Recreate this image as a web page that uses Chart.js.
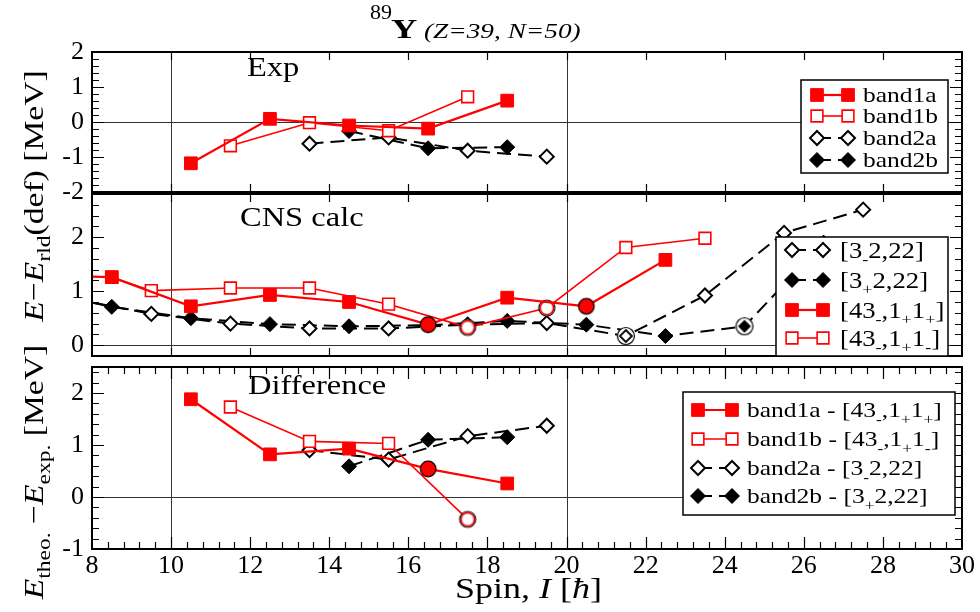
<!DOCTYPE html>
<html>
<head>
<meta charset="utf-8">
<script src="https://cdn.jsdelivr.net/npm/chart.js@4.4.1/dist/chart.umd.min.js"></script>
<style>
html,body{margin:0;padding:0;background:#fff;}
#wrap{position:relative;width:980px;height:612px;overflow:hidden;font-family:"Liberation Serif","Times New Roman",serif;color:#000;}
canvas{position:absolute;left:0;top:0;width:980px;height:612px;}
.lbl{position:absolute;white-space:nowrap;line-height:1;}
.sx{display:inline-block;transform-origin:0 0;}
.ytitle{font-size:28px;transform:translate(-50%,-50%) rotate(-90deg) scaleX(1.2);}
.sb{font-size:0.7em;position:relative;top:0.35em;}
</style>
</head>
<body>
<div id="wrap">
<canvas id="cExp" width="980" height="612"></canvas>
<canvas id="cCns" width="980" height="612"></canvas>
<canvas id="cDiff" width="980" height="612"></canvas>

<div class="lbl" style="left:370px;top:1px;font-size:22px;">89</div>
<div class="lbl sx" style="left:391px;top:15px;font-size:28px;font-weight:bold;transform:scaleX(1.3);">Y</div>
<div class="lbl sx" style="left:424px;top:21px;font-size:21px;font-style:italic;transform:scaleX(1.3);">(Z=39, N=50)</div>

<div class="lbl sx" style="left:247px;top:53px;font-size:28px;transform:scaleX(1.16);">Exp</div>
<div class="lbl sx" style="left:240px;top:203px;font-size:28px;transform:scaleX(1.16);">CNS calc</div>
<div class="lbl sx" style="left:248px;top:371px;font-size:28px;transform:scaleX(1.16);">Difference</div>

<div class="lbl ytitle" style="left:34px;top:196px;"><i>E</i>−<i>E</i><span class="sb">rld</span>(def) [MeV]</div>
<div class="lbl ytitle" style="left:34px;top:472px;"><i>E</i><span class="sb">theo.</span> −<i>E</i><span class="sb">exp.</span> [MeV]</div>

<div class="lbl sx" style="left:455px;top:573px;font-size:30px;transform:scaleX(1.2);">Spin, <i>I</i> [<i>ħ</i>]</div>
</div>

<script>
// ---------------- DATA ----------------
// Panel 1: experiment
const expBand1aSpin = [10.5, 12.5, 14.5, 16.5, 18.5];
const expBand1aE    = [-1.18, 0.09, -0.10, -0.19, 0.61];
const expBand1bSpin = [11.5, 13.5, 15.5, 17.5];
const expBand1bE    = [-0.68, -0.02, -0.25, 0.72];
const expBand2aSpin = [13.5, 15.5, 17.5, 19.5];
const expBand2aE    = [-0.62, -0.44, -0.82, -0.99];
const expBand2bSpin = [14.5, 16.5, 18.5];
const expBand2bE    = [-0.26, -0.75, -0.72];

// Panel 2: CNS calculations
const cns3mSpin  = [7.5, 9.5, 11.5, 13.5, 15.5, 17.5, 19.5, 21.5, 23.5, 25.5, 27.5];
const cns3mE     = [0.86, 0.58, 0.40, 0.31, 0.31, 0.38, 0.41, 0.17, 0.92, 2.08, 2.51];
const cns3pSpin  = [6.5, 8.5, 10.5, 12.5, 14.5, 16.5, 18.5, 20.5, 22.5, 24.5, 26.5];
const cns3pE     = [1.03, 0.71, 0.50, 0.39, 0.35, 0.37, 0.45, 0.38, 0.17, 0.35, 1.90];
const cns43ppSpin = [6.5, 8.5, 10.5, 12.5, 14.5, 16.5, 18.5, 20.5, 22.5];
const cns43ppE    = [1.30, 1.26, 0.72, 0.93, 0.80, 0.38, 0.88, 0.72, 1.58];
const cns43pmSpin = [8.5, 9.5, 11.5, 13.5, 15.5, 17.5, 19.5, 21.5, 23.5];
const cns43pmE    = [1.26, 1.01, 1.06, 1.06, 0.76, 0.33, 0.69, 1.81, 1.98];
// spins of the circled (crossing) points
const cns3mCircled   = [21.5];
const cns3pCircled   = [24.5];
const cns43ppCircled = [16.5, 20.5];
const cns43pmCircled = [17.5, 19.5];

// Panel 3: difference theory - experiment
const diffBand1aSpin = [10.5, 12.5, 14.5, 16.5, 18.5];
const diffBand1aE    = [1.88, 0.82, 0.93, 0.54, 0.26];
const diffBand1bSpin = [11.5, 13.5, 15.5, 17.5];
const diffBand1bE    = [1.73, 1.07, 1.03, -0.43];
const diffBand2aSpin = [13.5, 15.5, 17.5, 19.5];
const diffBand2aE    = [0.90, 0.72, 1.17, 1.37];
const diffBand2bSpin = [14.5, 16.5, 18.5];
const diffBand2bE    = [0.59, 1.10, 1.15];
const diffBand1aCircled = [16.5];
const diffBand1bCircled = [17.5];

// Axes
const spinMin = 8, spinMax = 30;
const spinTicks = [8, 10, 12, 14, 16, 18, 20, 22, 24, 26, 28, 30];
const guideSpins = [10, 20];
const expTicks  = [-2, -1, 0, 1, 2];
const cnsTicks  = [0, 1, 2];
const diffTicks = [-1, 0, 1, 2];

// ---------------- STYLES ----------------
const RED = '#ff0000';
const FONT = '"Liberation Serif", "Times New Roman", serif';
const STY = {
  redFilled:   {pointStyle:'rect',    radius:9,   bg:RED,    border:RED,    bw:1,   line:RED,    lw:2.2, dash:[]},
  redOpen:     {pointStyle:'rect',    radius:8.3, bg:'#fff', border:RED,    bw:1.6, line:RED,    lw:1.6, dash:[]},
  blackOpen:   {pointStyle:'rectRot', radius:7,   bg:'#fff', border:'#000', bw:2,   line:'#000', lw:2,   dash:[14,7]},
  blackFilled: {pointStyle:'rectRot', radius:7.5, bg:'#000', border:'#000', bw:1,   line:'#000', lw:2,   dash:[14,7]}
};
function mk(size, fn){ const c=document.createElement('canvas'); c.width=c.height=size; fn(c.getContext('2d'), size/2); return c; }
function diamond(g, m, r){ g.beginPath(); g.moveTo(m, m-r); g.lineTo(m+r, m); g.lineTo(m, m+r); g.lineTo(m-r, m); g.closePath(); }
const CIRC = {
  redFilled: mk(20,(g,m)=>{g.beginPath();g.arc(m,m,7.8,0,2*Math.PI);g.fillStyle=RED;g.fill();g.lineWidth=1.2;g.strokeStyle='#000';g.stroke();}),
  redOpen: mk(20,(g,m)=>{g.beginPath();g.arc(m,m,8,0,2*Math.PI);g.fillStyle='#fff';g.fill();g.lineWidth=1.2;g.strokeStyle='#000';g.stroke();
                         g.beginPath();g.arc(m,m,6.6,0,2*Math.PI);g.lineWidth=1.5;g.strokeStyle=RED;g.stroke();}),
  blackOpen: mk(22,(g,m)=>{g.beginPath();g.arc(m,m,8.5,0,2*Math.PI);g.fillStyle='#fff';g.fill();g.lineWidth=1.2;g.strokeStyle='#000';g.stroke();
                           diamond(g,m,6);g.lineWidth=1.8;g.stroke();}),
  blackFilled: mk(22,(g,m)=>{g.beginPath();g.arc(m,m,8.5,0,2*Math.PI);g.fillStyle='#fff';g.fill();g.lineWidth=1.2;g.strokeStyle='#000';g.stroke();
                             diamond(g,m,6.5);g.fillStyle='#000';g.fill();})
};

function series(label, xs, ys, kind, circled) {
  const s = STY[kind]; circled = circled || [];
  return {
    label, kind,
    data: xs.map((x, i) => ({x, y: ys[i]})),
    borderColor: s.line, borderWidth: s.lw, borderDash: s.dash, tension: 0, fill: false,
    pointStyle: c => (c.raw && circled.includes(c.raw.x)) ? CIRC[kind] : s.pointStyle,
    pointRadius: s.radius, pointHoverRadius: s.radius,
    pointBackgroundColor: s.bg, pointBorderColor: s.border, pointBorderWidth: s.bw
  };
}

function parseRich(str){
  const out=[]; const re=/_\{([^}]*)\}/g; let last=0, m;
  while((m=re.exec(str))){ if(m.index>last) out.push({t:str.slice(last,m.index)}); out.push({t:m[1],sub:true}); last=re.lastIndex; }
  if(last<str.length) out.push({t:str.slice(last)});
  return out;
}
function drawRich(ctx, x, y, segs, fs, sx){
  ctx.save(); ctx.translate(x, y); ctx.scale(sx, 1);
  ctx.textBaseline='alphabetic'; ctx.textAlign='left';
  let cx = 0;
  for (const s of segs) {
    const size = s.sub ? fs*0.68 : fs;
    ctx.font = size + 'px ' + FONT;
    ctx.fillText(s.t, cx, s.sub ? fs*0.28 : 0);
    cx += ctx.measureText(s.t).width;
  }
  ctx.restore();
}
function marker(ctx, s, x, y){
  ctx.beginPath();
  if (s.pointStyle === 'rect') { const h = s.radius*Math.SQRT1_2; ctx.rect(x-h, y-h, 2*h, 2*h); }
  else { const r = s.radius; ctx.moveTo(x, y-r); ctx.lineTo(x+r, y); ctx.lineTo(x, y+r); ctx.lineTo(x-r, y); ctx.closePath(); }
  ctx.fillStyle = s.bg; ctx.fill();
  ctx.strokeStyle = s.border; ctx.lineWidth = s.bw; ctx.stroke();
}

// ---------------- PLUGINS ----------------
const framePlugin = {
  id: 'panelFrame',
  beforeDatasetsDraw(chart, args, o) {
    const {ctx, chartArea: a} = chart; const x = chart.scales.x, y = chart.scales.y;
    ctx.save(); ctx.strokeStyle = '#333'; ctx.lineWidth = 1; ctx.beginPath();
    const y0 = Math.round(y.getPixelForValue(0)) + 0.5;
    ctx.moveTo(a.left, y0); ctx.lineTo(a.right, y0);
    for (const v of guideSpins) { const px = Math.round(x.getPixelForValue(v)) + 0.5; ctx.moveTo(px, a.top); ctx.lineTo(px, a.bottom); }
    ctx.stroke(); ctx.restore();
  },
  afterDatasetsDraw(chart, args, o) {
    const {ctx, chartArea: a} = chart; const x = chart.scales.x, y = chart.scales.y;
    ctx.save(); ctx.strokeStyle = '#000'; ctx.lineWidth = 1.2; ctx.beginPath();
    for (let k = Math.ceil(y.min/0.2 - 1e-6); k*0.2 <= y.max + 1e-6; k++) {
      const v = +(k*0.2).toFixed(6);
      if (v <= y.min + 1e-6 || v >= y.max - 1e-6) continue;
      const major = Math.abs(v - Math.round(v)) < 1e-6;
      const len = major ? o.yMajor : o.yMinor;
      const py = Math.round(y.getPixelForValue(v)) + 0.5;
      ctx.moveTo(a.left, py); ctx.lineTo(a.left + len, py);
      ctx.moveTo(a.right, py); ctx.lineTo(a.right - len, py);
    }
    const step = o.xMinorStep || 2;
    for (let k = 1; spinMin + k*step < spinMax - 1e-6; k++) {
      const v = +(spinMin + k*step).toFixed(6);
      const major = Math.abs((v - spinMin)/2 - Math.round((v - spinMin)/2)) < 1e-6;
      const len = major ? o.xMajor : o.xMinor;
      const px = Math.round(x.getPixelForValue(v)) + 0.5;
      ctx.moveTo(px, a.bottom); ctx.lineTo(px, a.bottom - len);
      ctx.moveTo(px, a.top); ctx.lineTo(px, a.top + len);
    }
    ctx.stroke();
    ctx.lineWidth = 2; ctx.strokeRect(a.left, a.top, a.width, a.height);
    ctx.restore();
  }
};
const legendPlugin = {
  id: 'panelLegend',
  afterDraw(chart, args, o) {
    const ctx = chart.ctx; const [x0, y0, x1, y1] = o.box;
    ctx.save();
    ctx.fillStyle = '#fff'; ctx.fillRect(x0, y0, x1-x0, y1-y0);
    ctx.strokeStyle = '#000'; ctx.lineWidth = 1.5; ctx.strokeRect(x0, y0, x1-x0, y1-y0);
    o.items.forEach(it => {
      const d = chart.data.datasets[it.ds]; const s = STY[d.kind];
      ctx.setLineDash(s.dash); ctx.strokeStyle = s.line; ctx.lineWidth = s.lw;
      ctx.beginPath(); ctx.moveTo(o.m1, it.y); ctx.lineTo(o.m2, it.y); ctx.stroke();
      ctx.setLineDash([]);
      marker(ctx, s, o.m1, it.y); marker(ctx, s, o.m2, it.y);
      ctx.fillStyle = '#000';
      drawRich(ctx, o.tx, it.y + o.fs*0.34, parseRich(d.label), o.fs, o.sx);
    });
    ctx.restore();
  }
};

function makeChart(id, top, bottom, yMin, yMax, yTicks, datasets, legend, frame, showX) {
  const xh = showX ? 612 - bottom : 0;
  return new Chart(document.getElementById(id), {
    type: 'line',
    data: { datasets },
    options: {
      responsive: false, animation: false, devicePixelRatio: 1,
      layout: { padding: { left: 0, right: 980 - 962, top: top, bottom: 612 - bottom - xh } },
      plugins: { legend: {display: false}, tooltip: {enabled: false}, panelLegend: legend, panelFrame: frame },
      scales: {
        x: { type: 'linear', min: spinMin, max: spinMax, grid: {display: false, drawTicks: false}, border: {display: false},
             ticks: { display: showX, font: {family: FONT, size: 26}, color: '#000', padding: 2, maxRotation: 0, autoSkip: false },
             afterBuildTicks: s => { s.ticks = spinTicks.map(v => ({value: v})); },
             afterFit: s => { s.height = xh; } },
        y: { type: 'linear', min: yMin, max: yMax, grid: {display: false, drawTicks: false}, border: {display: false},
             ticks: { font: {family: FONT, size: 26}, color: '#000', padding: 8 },
             afterBuildTicks: s => { s.ticks = yTicks.map(v => ({value: v})); },
             afterFit: s => { s.width = 92; } }
      }
    },
    plugins: [framePlugin, legendPlugin]
  });
}

makeChart('cExp', 52, 192, -2, 2, expTicks, [
  series('band1a', expBand1aSpin, expBand1aE, 'redFilled'),
  series('band1b', expBand1bSpin, expBand1bE, 'redOpen'),
  series('band2a', expBand2aSpin, expBand2aE, 'blackOpen'),
  series('band2b', expBand2bSpin, expBand2bE, 'blackFilled')
], { box: [801, 80, 948, 173], m1: 817, m2: 848, tx: 863, fs: 22, sx: 1.16,
     items: [{ds:0, y:95}, {ds:1, y:116}, {ds:2, y:138}, {ds:3, y:160}] },
   { yMajor: 12, yMinor: 7, xMajor: 8, xMinor: 0, xMinorStep: 2 }, false);

makeChart('cCns', 194, 356, -0.2, 2.8, cnsTicks, [
  series('[43_{-},1_{+}1_{+}]', cns43ppSpin, cns43ppE, 'redFilled', cns43ppCircled),
  series('[43_{-},1_{+}1_{-}]', cns43pmSpin, cns43pmE, 'redOpen', cns43pmCircled),
  series('[3_{-}2,22]', cns3mSpin, cns3mE, 'blackOpen', cns3mCircled),
  series('[3_{+}2,22]', cns3pSpin, cns3pE, 'blackFilled', cns3pCircled)
], { box: [776, 237, 948, 356], m1: 792, m2: 823, tx: 840, fs: 23, sx: 1.16,
     items: [{ds:2, y:250}, {ds:3, y:280}, {ds:0, y:310}, {ds:1, y:338}] },
   { yMajor: 12, yMinor: 7, xMajor: 8, xMinor: 0, xMinorStep: 2 }, false);

makeChart('cDiff', 367, 549, -1, 2.5, diffTicks, [
  series('band1a - [43_{-},1_{+}1_{+}]', diffBand1aSpin, diffBand1aE, 'redFilled', diffBand1aCircled),
  series('band1b - [43_{-},1_{+}1_{-}]', diffBand1bSpin, diffBand1bE, 'redOpen', diffBand1bCircled),
  series('band2a - [3_{-}2,22]', diffBand2aSpin, diffBand2aE, 'blackOpen'),
  series('band2b - [3_{+}2,22]', diffBand2bSpin, diffBand2bE, 'blackFilled')
], { box: [683, 392, 955, 515], m1: 698, m2: 732, tx: 747, fs: 22, sx: 1.16,
     items: [{ds:0, y:410}, {ds:1, y:439}, {ds:2, y:468}, {ds:3, y:496}] },
   { yMajor: 12, yMinor: 7, xMajor: 12, xMinor: 7, xMinorStep: 0.4 }, true);
</script>
</body>
</html>
